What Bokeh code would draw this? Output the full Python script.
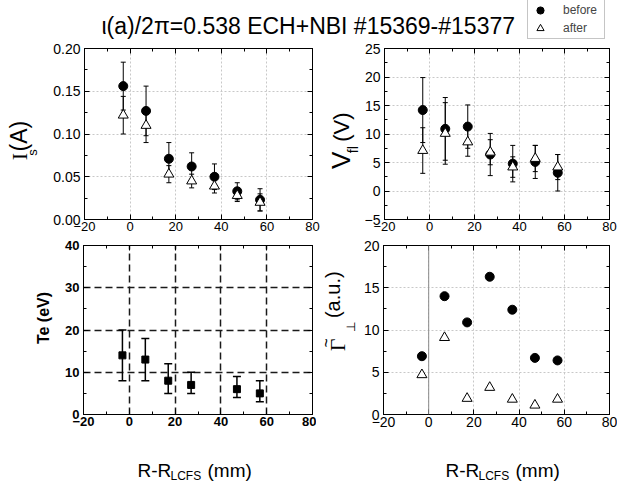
import math
from bokeh.plotting import figure
from bokeh.layouts import column, row
from bokeh.models import (ColumnDataSource, Range1d, FixedTicker, LinearAxis, Whisker, TeeHead,
                          Label, Legend, LegendItem, Span, PrintfTickFormatter, CustomLabelingPolicy)
from bokeh.embed import file_html
from bokeh.resources import INLINE

# ---------------- data ----------------
r_pos = [-3, 7, 17, 27, 37, 47, 57]

is_before = [0.156, 0.127, 0.071, 0.062, 0.050, 0.033, 0.023]
is_before_err = [0.028, 0.029, 0.019, 0.016, 0.015, 0.010, 0.013]
is_after = [0.122, 0.110, 0.053, 0.045, 0.039, 0.028, 0.020]
is_after_err = [0.022, 0.020, 0.010, 0.008, 0.008, 0.007, 0.010]

vf_before = [14.2, 10.9, 11.3, 6.4, 4.8, 5.1, 3.2]
vf_before_err = [5.7, 5.5, 3.8, 3.7, 3.2, 2.9, 3.2]
vf_after = [7.1, 10.1, 8.6, 6.8, 4.2, 5.7, 4.2]
vf_after_err = [4.0, 5.4, 2.5, 2.2, 1.8, 2.3, 2.2]

te_pos = [-3, 7, 17, 27, 47, 57]
te_val = [14, 13, 8, 7, 6, 5]
te_lower = [8, 8, 5, 5, 4, 3]
te_upper = [20, 18, 12, 10, 9, 8]

gam_before = [6.9, 14.0, 10.9, 16.3, 12.4, 6.7, 6.4]
gam_after = [4.7, 9.1, 1.9, 3.2, 1.8, 1.1, 1.8]

x_ticks = [-20, 0, 20, 40, 60, 80]
x_minor = [-10, 10, 30, 50, 70]
is_ticks = [0.0, 0.05, 0.10, 0.15, 0.20]
is_minor = [0.025, 0.075, 0.125, 0.175]
vf_ticks = [-5, 0, 5, 10, 15, 20, 25]
vf_minor = [-2.5, 2.5, 7.5, 12.5, 17.5, 22.5]
te_ticks = [0, 10, 20, 30, 40]
te_minor = [5, 15, 25, 35]
gam_ticks = [0, 5, 10, 15, 20]
gam_minor = [2.5, 7.5, 12.5, 17.5]

title_text = "\u03b9(a)/2\u03c0=0.538 ECH+NBI #15369-#15377"
legend_labels = ["before", "after"]

FONT = "Liberation Sans"
HALF = math.pi / 2
NAN = float("nan")
SHIFT = 0.35  # observed offset of the alphabetic baseline, in em


def style_axis(ax, size, bold=False, hide=False, standoff=4):
    ax.axis_line_color = "black"
    ax.axis_line_width = 1
    ax.major_tick_in = 5
    ax.major_tick_out = 0
    ax.minor_tick_in = 3
    ax.minor_tick_out = 0
    ax.major_tick_line_color = "black"
    ax.minor_tick_line_color = "black"
    ax.major_label_standoff = standoff
    ax.major_label_text_font = FONT
    ax.major_label_text_font_size = f"{size}px"
    ax.major_label_text_font_style = "bold" if bold else "normal"
    ax.major_label_text_color = "black"
    if hide:
        ax.major_label_policy = CustomLabelingPolicy(
            code="for (const i of indices) indices.unset(i); return indices")
        ax.major_label_text_font_size = "0px"
        ax.major_label_standoff = 0


def make_fig(width, height, bl, br, bt, bb, xr, yr, xt, xm, yt, ym, xsize, ysize, bold=False):
    p = figure(width=width, height=height, x_range=Range1d(*xr), y_range=Range1d(*yr),
               output_backend="svg", toolbar_location=None,
               min_border_left=bl, min_border_right=br, min_border_top=bt, min_border_bottom=bb)
    p.outline_line_color = "black"
    p.outline_line_width = 1
    p.background_fill_color = "white"
    p.border_fill_color = "white"
    p.xaxis.ticker = FixedTicker(ticks=xt, minor_ticks=xm)
    p.yaxis.ticker = FixedTicker(ticks=yt, minor_ticks=ym)
    style_axis(p.xaxis[0], xsize, bold, standoff=2)
    style_axis(p.yaxis[0], ysize, bold, standoff=4)
    top = LinearAxis(ticker=FixedTicker(ticks=xt, minor_ticks=xm))
    style_axis(top, xsize, hide=True)
    p.add_layout(top, "above")
    right = LinearAxis(ticker=FixedTicker(ticks=yt, minor_ticks=ym))
    style_axis(right, ysize, hide=True)
    p.add_layout(right, "right")
    for g in (p.xgrid[0], p.ygrid[0]):
        g.grid_line_color = "#c8c8c8"
        g.grid_line_dash = "2 2"
        g.grid_line_width = 1
    return p


def strip(w, h):
    s = figure(width=w, height=h, x_range=Range1d(0, w), y_range=Range1d(0, h),
               x_axis_type=None, y_axis_type=None, output_backend="svg",
               toolbar_location=None, min_border=0)
    s.outline_line_color = None
    s.background_fill_color = "white"
    s.border_fill_color = "white"
    return s


def hlab(p, text, x, base_y, size, font=FONT, style="normal", align="left"):
    """horizontal text; base_y = wanted baseline height above the strip bottom"""
    p.add_layout(Label(x=x, y=base_y + SHIFT * size, text=text, text_font=font,
                       text_font_size=f"{size}px", text_font_style=style, text_align=align,
                       text_baseline="alphabetic", text_color="black"))


def vlab(p, text, base_x, y, size, font=FONT, style="normal", align="left"):
    """text rotated to read upwards; base_x = wanted baseline position"""
    p.add_layout(Label(x=base_x - SHIFT * size, y=y, text=text, text_font=font,
                       text_font_size=f"{size}px", text_font_style=style, angle=HALF,
                       text_align=align, text_baseline="alphabetic", text_color="black"))


def err_source(xs, ys, errs):
    return ColumnDataSource(dict(x=xs, y=ys, lo=[y - e for y, e in zip(ys, errs)],
                                 hi=[y + e for y, e in zip(ys, errs)]))


def add_whisker(p, src, head=5, lw=1.0):
    w = Whisker(base="x", upper="hi", lower="lo", source=src, dimension="height",
                line_color="black", line_width=lw,
                upper_head=TeeHead(size=head, line_color="black", line_width=lw),
                lower_head=TeeHead(size=head, line_color="black", line_width=lw),
                level="underlay")
    p.add_layout(w)


def before_after(p, sb, sa):
    p.scatter("x", "y", source=sb, marker="circle", size=9, fill_color="black", line_color="black")
    p.scatter("x", "y", source=sa, marker="triangle", size=10, fill_color="white",
              line_color="black", line_width=1)


# ---------------- title strip with legend ----------------
tf = strip(617, 40)
hlab(tf, title_text, 101, 6, 23)
dummy = ColumnDataSource(dict(x=[NAN], y=[NAN]))
rb = tf.scatter("x", "y", source=dummy, marker="circle", size=8, fill_color="black", line_color="black")
ra = tf.scatter("x", "y", source=dummy, marker="triangle", size=9, fill_color="white", line_color="black")
leg = Legend(items=[LegendItem(label=legend_labels[0], renderers=[rb]),
                    LegendItem(label=legend_labels[1], renderers=[ra])],
             location=(527, 1), padding=1, spacing=0, margin=0,
             glyph_width=22, glyph_height=18, label_height=18, label_width=40,
             label_standoff=12, label_text_font=FONT, label_text_font_size="12px",
             border_line_color="#8c8c8c", border_line_width=1, background_fill_color="white",
             background_fill_alpha=1.0)
tf.add_layout(leg)

# ---------------- row 1 (page y 40..236) ----------------
L1 = strip(40, 196)
vlab(L1, "I", 27, 68, 22, font="Liberation Serif")
vlab(L1, "s", 37, 73, 13)
vlab(L1, "(A)", 27, 78, 23)

f1 = make_fig(283, 196, 44, 11, 8, 17, (-20, 80), (0, 0.2), x_ticks, x_minor, is_ticks, is_minor, 13, 14)
f1.yaxis[0].formatter = PrintfTickFormatter(format="%.2f")
s1b = err_source(r_pos, is_before, is_before_err)
s1a = err_source(r_pos, is_after, is_after_err)
add_whisker(f1, s1b)
add_whisker(f1, s1a)
before_after(f1, s1b, s1a)

L2 = strip(38, 196)
vlab(L2, "V", 27, 58, 26)
vlab(L2, "fl", 34.5, 76, 14)
vlab(L2, "(V)", 26, 89, 22)

f2 = make_fig(256, 196, 20, 8, 8, 17, (-20, 80), (-5, 25), x_ticks, x_minor, vf_ticks, vf_minor, 13, 14)
s2b = err_source(r_pos, vf_before, vf_before_err)
s2a = err_source(r_pos, vf_after, vf_after_err)
add_whisker(f2, s2b)
add_whisker(f2, s2a)
before_after(f2, s2b, s2a)

# ---------------- row 2 (page y 236..455) ----------------
L3 = strip(55, 219)
vlab(L3, "Te (eV)", 48.5, 125, 16, style="bold", align="center")

f3 = make_fig(261, 219, 28, 4, 8, 36, (-20, 80), (0, 40), x_ticks, x_minor, te_ticks, te_minor, 13, 13, bold=True)
for g, t in ((f3.xgrid[0], [0, 20, 40, 60]), (f3.ygrid[0], [10, 20, 30])):
    g.ticker = FixedTicker(ticks=t)
    g.grid_line_color = "#1a1a1a"
    g.grid_line_dash = "7 4"
    g.grid_line_width = 1.5
s3 = ColumnDataSource(dict(x=te_pos, y=te_val, lo=te_lower, hi=te_upper))
add_whisker(f3, s3, head=8, lw=1.5)
f3.scatter("x", "y", source=s3, marker="square", size=7, fill_color="black", line_color="black")

L4 = strip(44, 219)
vlab(L4, "\u0393", 29, 82, 22, font="Liberation Serif")
vlab(L4, "~", 16, 93, 16, align="center")
vlab(L4, "\u22a5", 39, 107, 12, font="DejaVu Sans")
vlab(L4, "(a.u.)", 23, 125, 20)

f4 = make_fig(257, 219, 22, 8, 9, 41, (-20, 80), (0, 20), x_ticks, x_minor, gam_ticks, gam_minor, 14, 14)
f4.add_layout(Span(location=0, dimension="height", line_color="#8a8a8a", line_width=1))
s4b = ColumnDataSource(dict(x=r_pos, y=gam_before))
s4a = ColumnDataSource(dict(x=r_pos, y=gam_after))
before_after(f4, s4b, s4a)

# ---------------- bottom x-axis titles (page y 455..482) ----------------
B = strip(617, 27)
for x0 in (137, 445):
    hlab(B, "R-R", x0, 5, 19)
    hlab(B, "LCFS", x0 + 33, 2, 12)
    hlab(B, "(mm)", x0 + 70, 5, 19)

layout = column(tf, row(L1, f1, L2, f2), row(L3, f3, L4, f4), B)
open("out.html", "w").write(file_html(layout, INLINE))
